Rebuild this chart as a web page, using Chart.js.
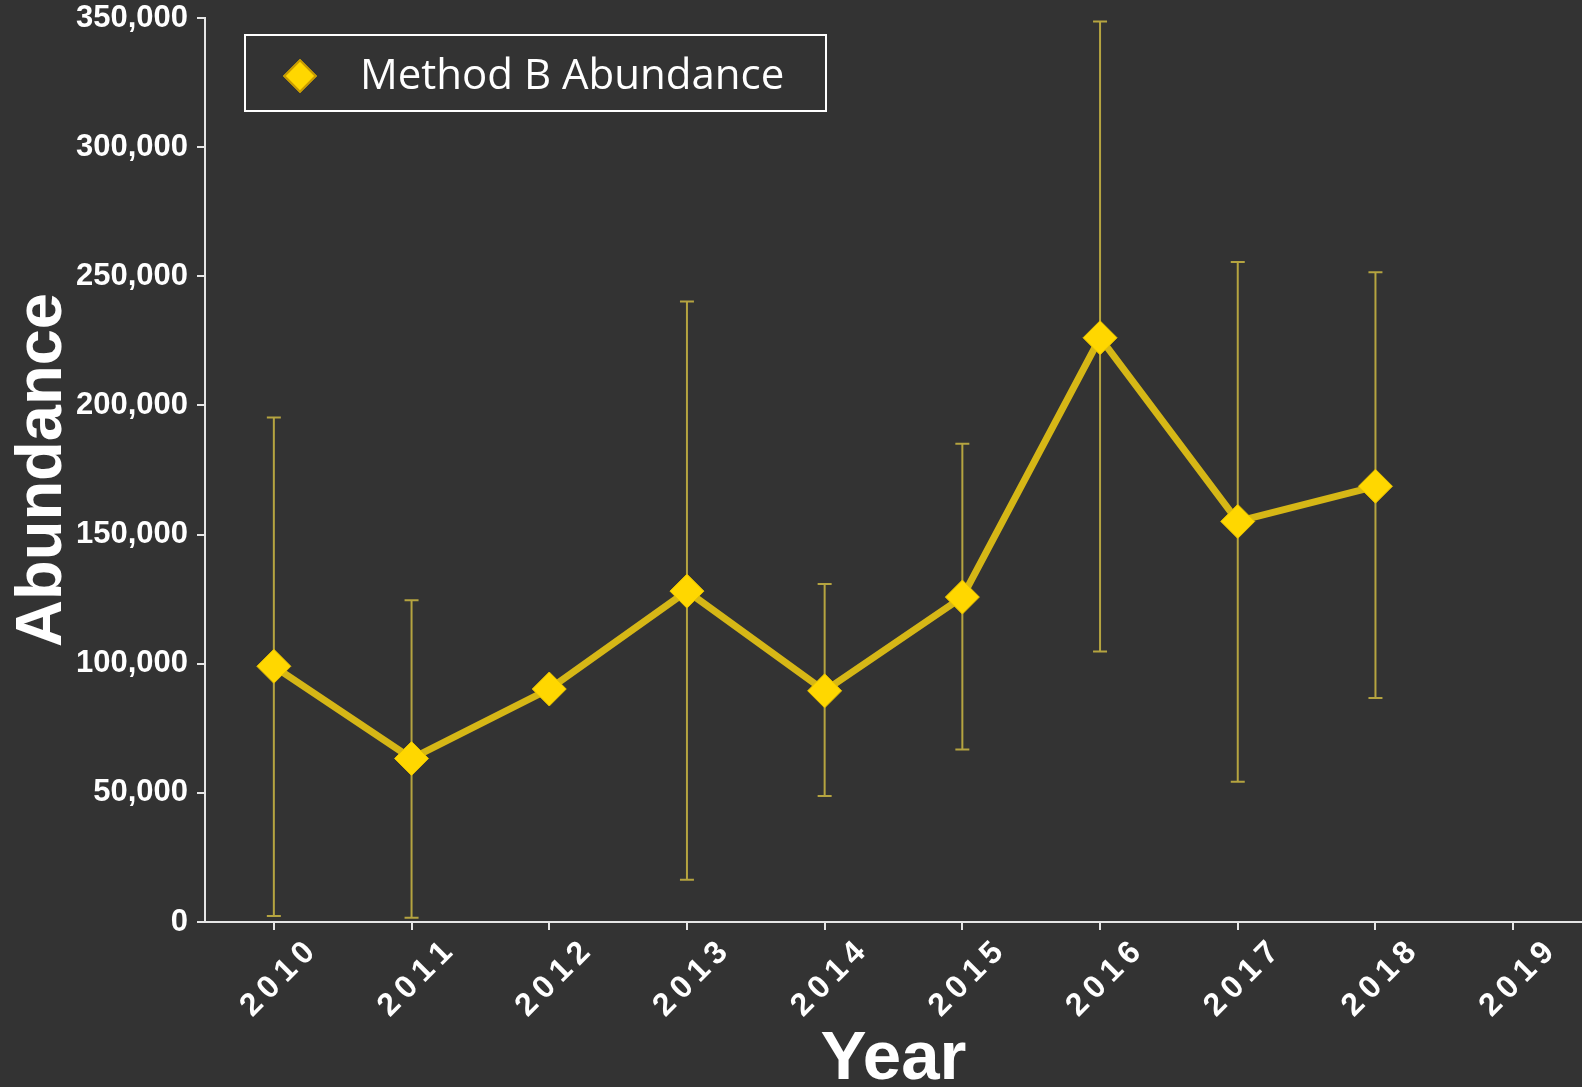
<!DOCTYPE html>
<html>
<head>
<meta charset="utf-8">
<script src="https://cdn.jsdelivr.net/npm/chart.js@4/dist/chart.umd.min.js"></script>
<style>
  body { margin: 0; background: #333333; }
  #wrap { position: relative; width: 1582px; height: 1087px; }
  #legend {
    position: absolute; left: 244px; top: 34px; width: 579px; height: 74px;
    border: 2px solid #ffffff; box-sizing: content-box;
  }
  #legend .mark {
    position: absolute; left: 42px; top: 28px; width: 20px; height: 20px;
    background: #ffd700; border: 2px solid #c89a00; transform: rotate(45deg);
  }
  #legend .txt {
    position: absolute; left: 114px; top: 16px; font-family: "Open Sans", sans-serif;
    font-size: 42px; line-height: 1; color: #ffffff; white-space: nowrap;
  }
</style>
</head>
<body>
<div id="wrap">
  <canvas id="chart" width="1582" height="1087"></canvas>
  <div id="legend"><div class="mark"></div><div class="txt">Method B Abundance</div></div>
</div>
<script>
// Data
const years = ["2010", "2011", "2012", "2013", "2014", "2015", "2016", "2017", "2018", "2019"];
const abundance = [99000, 63300, 90200, 128100, 89500, 125800, 226200, 155100, 168700];
const lowerErr = [2300, 1600, null, 16400, 48800, 66800, 104700, 54300, 86700];
const upperErr = [195300, 124600, null, 240200, 130900, 185200, 348600, 255500, 251600];
const yTicks = [0, 50000, 100000, 150000, 200000, 250000, 300000, 350000];

// draws the vertical error bars behind the line
const errorBars = {
  id: "errorBars",
  beforeDatasetsDraw(chart) {
    const { ctx, scales: { x, y } } = chart;
    ctx.save();
    ctx.strokeStyle = "#b5a440";
    ctx.lineWidth = 2;
    lowerErr.forEach(function (lo, i) {
      const hi = upperErr[i];
      if (lo == null || hi == null) return;
      const px = x.getPixelForValue(i);
      const top = y.getPixelForValue(hi);
      const bot = y.getPixelForValue(lo);
      ctx.beginPath();
      ctx.moveTo(px, top); ctx.lineTo(px, bot);
      ctx.moveTo(px - 7, top); ctx.lineTo(px + 7, top);
      ctx.moveTo(px - 7, bot); ctx.lineTo(px + 7, bot);
      ctx.stroke();
    });
    ctx.restore();
  }
};

new Chart(document.getElementById("chart"), {
  type: "line",
  data: {
    labels: years,
    datasets: [{
      label: "Method B Abundance",
      data: abundance,
      borderColor: "#d6b716",
      borderWidth: 7,
      tension: 0,
      pointStyle: "rectRot",
      pointRadius: 17,
      pointHoverRadius: 17,
      pointBackgroundColor: "#ffd700",
      pointBorderColor: "#e8c200",
      pointBorderWidth: 1
    }]
  },
  options: {
    responsive: false,
    devicePixelRatio: 1,
    animation: false,
    layout: { autoPadding: false, padding: { top: 18, right: 0, left: 0, bottom: 0 } },
    plugins: { legend: { display: false }, tooltip: { enabled: false } },
    scales: {
      x: {
        type: "category",
        offset: true,
        grid: { display: true, drawOnChartArea: false, color: "#e6e6e6", lineWidth: 2, tickLength: 8 },
        border: { display: true, color: "#e6e6e6", width: 2 },
        ticks: {
          color: "#ffffff",
          font: { family: "Liberation Sans", weight: "bold", size: 32 },
          minRotation: 45, maxRotation: 45, autoSkip: false,
          labelOffset: 36, padding: 4,
          callback: function (value) {
            return this.getLabelForValue(value).split("").join("\u2009");
          }
        },
        title: {
          display: true, text: "Year", color: "#ffffff",
          font: { family: "Liberation Sans", weight: "bold", size: 69, lineHeight: 1 },
          padding: { top: 0, bottom: -7 }
        },
        afterFit: function (scale) {
          scale.height = 165;
          scale.paddingLeft = 0;
          scale.paddingRight = 0;
        }
      },
      y: {
        min: 0, max: 350000,
        grid: { display: true, drawOnChartArea: false, color: "#e6e6e6", lineWidth: 2, tickLength: 8 },
        border: { display: true, color: "#e6e6e6", width: 2 },
        afterBuildTicks: function (scale) {
          scale.ticks = yTicks.map(function (v) { return { value: v }; });
        },
        ticks: {
          color: "#ffffff",
          font: { family: "Liberation Sans", weight: "bold", size: 31 },
          padding: 9,
          callback: function (v) { return v.toLocaleString("en-US"); }
        },
        title: {
          display: true, text: "Abundance", color: "#ffffff",
          font: { family: "Liberation Sans", weight: "bold", size: 65 },
          padding: { top: 4, bottom: 0 }
        },
        afterFit: function (scale) {
          scale.width = 205;
          scale.paddingTop = 0;
          scale.paddingBottom = 0;
        }
      }
    }
  },
  plugins: [errorBars]
});
</script>
</body>
</html>
